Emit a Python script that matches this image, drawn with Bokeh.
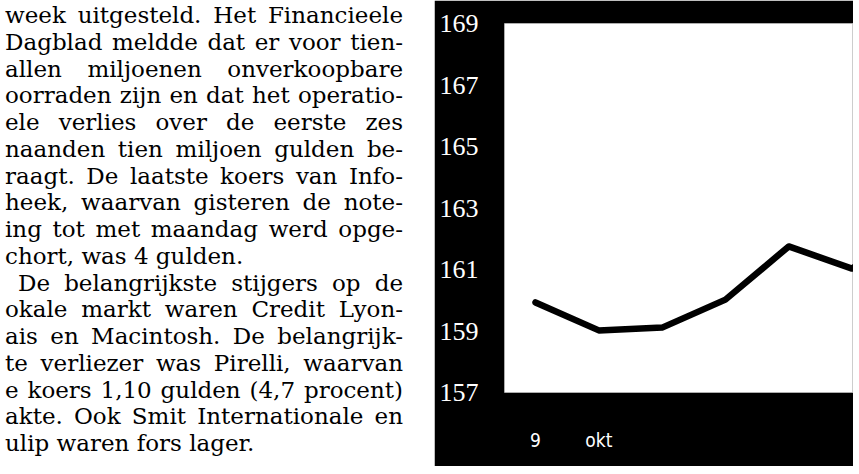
from bokeh.plotting import figure
from bokeh.layouts import row
from bokeh.models import Div, FixedTicker, Range1d
from bokeh.embed import file_html
from bokeh.resources import INLINE

# ---- data ----
day_index = [0, 1, 2, 3, 4, 5, 6]
koers = [159.93, 159.02, 159.11, 160.02, 161.75, 161.03, 162.4]
y_ticks = [157, 159, 161, 163, 165, 167, 169]
x_tick_pos = [0, 1]
x_tick_labels = ["9", "okt"]

column_lines = [
    "week uitgesteld. Het Financieele",
    "Dagblad meldde dat er voor tien-",
    "allen miljoenen onverkoopbare",
    "oorraden zijn en dat het operatio-",
    "ele verlies over de eerste zes",
    "naanden tien miljoen gulden be-",
    "raagt. De laatste koers van Info-",
    "heek, waarvan gisteren de note-",
    "ing tot met maandag werd opge-",
    "chort, was 4 gulden.",
    "De belangrijkste stijgers op de",
    "okale markt waren Credit Lyon-",
    "ais en Macintosh. De belangrijk-",
    "te verliezer was Pirelli, waarvan",
    "e koers 1,10 gulden (4,7 procent)",
    "akte. Ook Smit Internationale en",
    "ulip waren fors lager.",
]
last_lines = {9, 16}
indented = {10}

# ---- text column ----
parts = []
for i, ln in enumerate(column_lines):
    if i in last_lines:
        style = "text-align:left;"
    else:
        style = "text-align:justify;text-align-last:justify;"
    if i in indented:
        style += "padding-left:13px;"
    parts.append(f'<div style="{style}white-space:nowrap;">{ln}</div>')

html = (
    '<div style="position:relative;top:-3px;width:398px;'
    "font-family:'DejaVu Serif';font-size:23px;line-height:26.75px;"
    'color:#000;">' + "".join(parts) + "</div>"
)
div = Div(text=html, width=424, height=466)

# ---- chart ----
p = figure(
    width=419, height=466,
    output_backend="svg", toolbar_location=None,
    x_range=Range1d(-0.49, 5.023), y_range=Range1d(157, 169),
    min_border_left=70, min_border_right=0, min_border_top=23, min_border_bottom=74,
    border_fill_color="black", background_fill_color="white",
)
p.outline_line_color = "#9a9a9a"
p.outline_line_dash = "1 1"
p.outline_line_width = 1
p.grid.visible = False

p.line(day_index, koers, line_color="black", line_width=6.5, line_join="round", line_cap="round")

p.yaxis.ticker = FixedTicker(ticks=y_ticks)
p.yaxis.axis_line_color = None
p.yaxis.major_tick_line_color = None
p.yaxis.minor_tick_line_color = None
p.yaxis.major_label_standoff = 20
p.yaxis.major_label_text_color = "white"
p.yaxis.major_label_text_font = "'Liberation Serif', serif"
p.yaxis.major_label_text_font_size = "26px"
p.yaxis.major_label_text_baseline = "hanging"

p.xaxis.ticker = FixedTicker(ticks=x_tick_pos)
p.xaxis.major_label_overrides = {t: l for t, l in zip(x_tick_pos, x_tick_labels)}
p.xaxis.axis_line_color = None
p.xaxis.major_tick_line_color = None
p.xaxis.minor_tick_line_color = None
p.xaxis.major_label_standoff = 30
p.xaxis.major_label_text_color = "white"
p.xaxis.major_label_text_font = "'DejaVu Sans Condensed', 'Liberation Sans Narrow', sans-serif"
p.xaxis.major_label_text_font_size = "19px"

layout = row(div, p, spacing=0)

open("out.html", "w").write(file_html(layout, INLINE))
